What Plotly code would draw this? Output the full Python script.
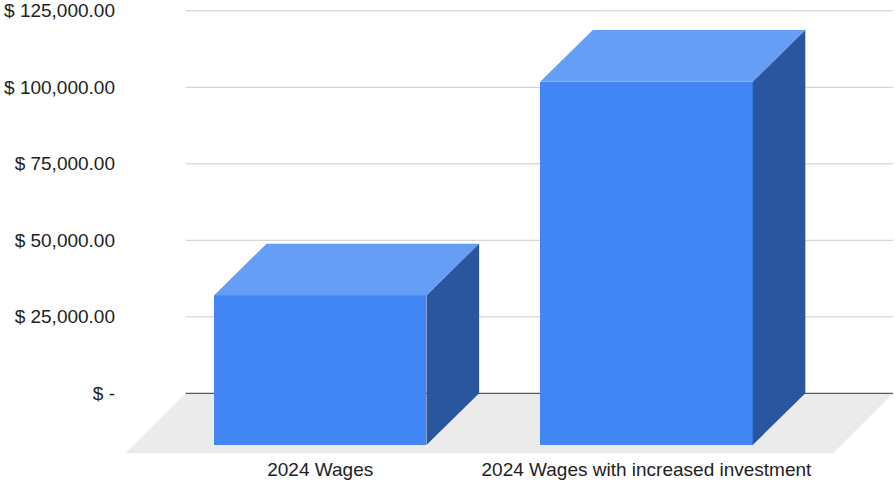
import plotly.graph_objects as go

# ---- data ----
categories = ["2024 Wages", "2024 Wages with increased investment"]
values = [48900, 118700]
tick_values = [0, 25000, 50000, 75000, 100000, 125000]
tick_labels = ["$ -", "$ 25,000.00", "$ 50,000.00", "$ 75,000.00", "$ 100,000.00", "$ 125,000.00"]

# ---- style / projection constants ----
BAR_W = 0.6515          # bar front width (category units)
DEPTH_X = 0.1614        # bar depth along x (category units)
DEPTH_Y = 16900         # bar depth along y (value units)
FLOOR_DX = 0.1838
FLOOR_DY = 19600
BACK_LEFT = -0.4126     # back-plane extent (category units)
BACK_RIGHT = 1.7559
X_RANGE = [BACK_LEFT - FLOOR_DX - 0.002, BACK_RIGHT]
Y_RANGE = [-20490, 128530]

FRONT = "#4285F4"
TOP = "#669DF6"
SIDE = "#2A56A0"
FLOOR = "#EBEBEB"
GRID = "#CCCCCC"
ZERO = "#333333"
FONT = "Liberation Sans, Arial, sans-serif"

xs = list(range(len(categories)))

fig = go.Figure()

# front faces (bars shifted forward by the depth)
fig.add_trace(go.Bar(
    x=xs, y=values, base=[-DEPTH_Y] * len(values), width=BAR_W,
    marker=dict(color=FRONT, line=dict(width=0)), hoverinfo="skip",
    showlegend=False,
))

# top and side faces
for c, v in zip(xs, values):
    l, r = c - BAR_W / 2, c + BAR_W / 2
    fig.add_trace(go.Scatter(
        x=[l, r, r + DEPTH_X, l + DEPTH_X, l],
        y=[v - DEPTH_Y, v - DEPTH_Y, v, v, v - DEPTH_Y],
        fill="toself", fillcolor=TOP, mode="lines", line=dict(width=0, color=TOP),
        hoverinfo="skip", showlegend=False,
    ))
    fig.add_trace(go.Scatter(
        x=[r, r + DEPTH_X, r + DEPTH_X, r, r],
        y=[v - DEPTH_Y, v, 0, -DEPTH_Y, v - DEPTH_Y],
        fill="toself", fillcolor=SIDE, mode="lines", line=dict(width=0, color=SIDE),
        hoverinfo="skip", showlegend=False,
    ))

shapes = []
# floor
shapes.append(dict(
    type="path", xref="x", yref="y", layer="below",
    path=(f"M {BACK_LEFT - FLOOR_DX},{-FLOOR_DY} L {BACK_RIGHT - FLOOR_DX},{-FLOOR_DY} "
          f"L {BACK_RIGHT},0 L {BACK_LEFT},0 Z"),
    fillcolor=FLOOR, line=dict(width=0),
))
# gridlines on back plane
for tv in tick_values:
    shapes.append(dict(
        type="line", xref="x", yref="y", layer="below",
        x0=BACK_LEFT, x1=BACK_RIGHT, y0=tv, y1=tv,
        line=dict(color=ZERO if tv == 0 else GRID, width=1),
    ))

fig.update_layout(
    width=895, height=484,
    margin=dict(l=125, r=2, t=0, b=28, autoexpand=False),
    paper_bgcolor="white", plot_bgcolor="white",
    font=dict(family=FONT, size=19, color="#222222"),
    shapes=shapes,
    bargap=0,
    hovermode=False,
    xaxis=dict(
        range=X_RANGE, tickvals=xs, ticktext=categories,
        showgrid=False, zeroline=False, showline=False, ticks="",
        tickfont=dict(family=FONT, size=19, color="#222222"),
    ),
    yaxis=dict(
        range=Y_RANGE, tickvals=tick_values, ticktext=tick_labels,
        showgrid=False, zeroline=False, showline=False, ticks="",
        ticklabelstandoff=9,
        tickfont=dict(family=FONT, size=19, color="#222222"),
    ),
)

fig.write_html(
    "out.html",
    config={"displayModeBar": False, "staticPlot": True},
    post_script="document.body.style.margin='0';",
)
